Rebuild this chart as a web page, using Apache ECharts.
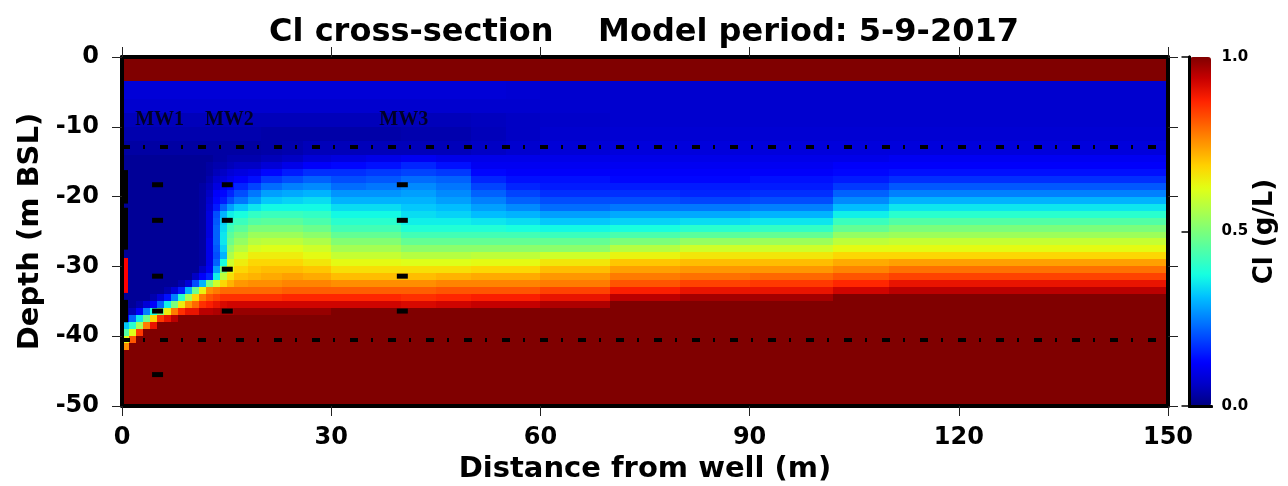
<!DOCTYPE html>
<html>
<head>
<meta charset="utf-8">
<script src="https://cdn.jsdelivr.net/npm/echarts@6/dist/echarts.min.js"></script>
<style>
  html, body { margin: 0; padding: 0; background: #fff; }
  #chart { width: 1288px; height: 486px; }
</style>
</head>
<body>
<div id="chart"></div>
<script>
// model column edges, m from well
const xEdges = [0, 1, 2, 3, 4, 5, 6, 7, 8, 9, 10, 11, 12, 13, 14, 15, 16, 18, 20, 23, 26, 30, 35, 40, 45, 50, 55, 60, 70, 80, 90, 102, 110, 150];
// model layer edges, m BSL
const depthEdges = [0, -3.5, -6, -8, -10, -12, -14, -15, -16, -17, -18, -19, -20, -21, -22, -23, -24, -25, -26, -27, -28,
  -29, -30, -31, -32, -33, -34, -35, -36, -37, -38, -39, -40, -41, -42, -43, -50];

// Cl (g/L) per column, top layer to bottom layer (one row per layer)
const clColumns = [
  [1, .08, .07, .05, .04, .03, .02, .02, .02, .02, .02, .02, .02, .02, .02, .02,
    .02, .02, .02, .02, .02, .02, .02, .02, .02, .02, .02, .02, .03, .12, .32, .45, .62, .76, 1, 1], // 0-1
  [1, .08, .07, .05, .04, .03, .02, .02, .02, .02, .02, .02, .02, .02, .02, .02,
    .02, .02, .02, .02, .02, .02, .02, .02, .02, .02, .02, .02, .05, .22, .4, .62, .82, 1, 1, 1], // 1-2
  [1, .08, .07, .05, .04, .03, .02, .02, .02, .02, .02, .02, .02, .02, .02, .02,
    .02, .02, .02, .02, .02, .02, .02, .02, .02, .02, .02, .04, .12, .35, .55, .85, 1, 1, 1, 1], // 2-3
  [1, .08, .07, .05, .04, .03, .02, .02, .02, .02, .02, .02, .02, .02, .02, .02,
    .02, .02, .02, .02, .02, .02, .02, .02, .02, .02, .02, .08, .25, .48, .78, 1, 1, 1, 1, 1], // 3-4
  [1, .08, .07, .05, .04, .03, .02, .02, .02, .02, .02, .02, .02, .02, .02, .02,
    .02, .02, .02, .02, .02, .02, .02, .02, .02, .02, .04, .12, .38, .68, .9, 1, 1, 1, 1, 1], // 4-5
  [1, .08, .07, .05, .04, .03, .02, .02, .02, .02, .02, .02, .02, .02, .02, .02,
    .02, .02, .02, .02, .02, .02, .02, .02, .02, .02, .08, .22, .5, .85, 1, 1, 1, 1, 1, 1], // 5-6
  [1, .08, .07, .05, .04, .03, .02, .02, .02, .02, .02, .02, .02, .02, .02, .02,
    .02, .02, .02, .02, .02, .02, .02, .02, .02, .04, .14, .36, .65, .9, 1, 1, 1, 1, 1, 1], // 6-7
  [1, .08, .07, .05, .04, .03, .02, .02, .02, .02, .02, .02, .02, .02, .02, .02,
    .02, .02, .02, .02, .02, .02, .02, .02, .02, .08, .25, .5, .78, .95, 1, 1, 1, 1, 1, 1], // 7-8
  [1, .08, .07, .05, .04, .03, .02, .02, .02, .02, .02, .02, .02, .02, .02, .02,
    .02, .02, .02, .02, .02, .02, .02, .02, .04, .15, .4, .65, .86, 1, 1, 1, 1, 1, 1, 1], // 8-9
  [1, .08, .07, .05, .04, .03, .02, .02, .02, .02, .02, .02, .02, .02, .02, .02,
    .02, .02, .02, .02, .02, .02, .02, .02, .08, .3, .55, .75, .9, 1, 1, 1, 1, 1, 1, 1], // 9-10
  [1, .08, .07, .05, .04, .03, .02, .02, .02, .02, .02, .02, .02, .02, .02, .02,
    .02, .02, .02, .02, .02, .02, .02, .06, .2, .48, .68, .8, .9, 1, 1, 1, 1, 1, 1, 1], // 10-11
  [1, .08, .07, .05, .04, .03, .02, .02, .02, .02, .03, .03, .03, .03, .03, .03,
    .03, .03, .03, .03, .03, .03, .06, .12, .3, .64, .78, .86, .95, 1, 1, 1, 1, 1, 1, 1], // 11-12
  [1, .08, .07, .05, .04, .03, .02, .03, .03, .04, .05, .06, .07, .08, .09, .09,
    .09, .09, .1, .1, .1, .1, .11, .16, .5, .76, .82, .88, .95, 1, 1, 1, 1, 1, 1, 1], // 12-13
  [1, .08, .07, .05, .04, .03, .03, .04, .05, .07, .09, .12, .13, .15, .2, .21,
    .22, .22, .22, .21, .2, .22, .28, .36, .6, .78, .84, .9, .96, 1, 1, 1, 1, 1, 1, 1], // 13-14
  [1, .08, .07, .05, .04, .03, .03, .04, .06, .08, .11, .13, .15, .22, .3, .33,
    .34, .35, .35, .33, .3, .38, .5, .58, .68, .8, .86, .92, .97, 1, 1, 1, 1, 1, 1, 1], // 14-15
  [1, .08, .07, .05, .04, .03, .04, .05, .08, .1, .13, .16, .2, .28, .36, .4,
    .43, .46, .48, .52, .56, .6, .63, .67, .72, .8, .86, .93, .97, 1, 1, 1, 1, 1, 1, 1], // 15-16
  [1, .08, .07, .05, .04, .03, .04, .06, .09, .12, .16, .2, .24, .32, .38, .42,
    .46, .5, .53, .57, .61, .65, .68, .71, .75, .8, .86, .93, .98, 1, 1, 1, 1, 1, 1, 1], // 16-18
  [1, .08, .07, .05, .04, .03, .04, .06, .1, .14, .19, .24, .28, .35, .41, .45,
    .5, .54, .57, .61, .65, .68, .7, .72, .76, .8, .86, .93, .98, 1, 1, 1, 1, 1, 1, 1], // 18-20
  [1, .08, .07, .05, .035, .035, .05, .08, .13, .18, .23, .28, .32, .37, .42, .46,
    .5, .54, .58, .62, .65, .68, .71, .73, .76, .8, .86, .93, .98, 1, 1, 1, 1, 1, 1, 1], // 20-23
  [1, .08, .07, .05, .035, .04, .06, .1, .15, .2, .25, .29, .33, .37, .42, .46,
    .5, .54, .58, .62, .65, .68, .71, .74, .77, .81, .87, .93, .98, 1, 1, 1, 1, 1, 1, 1], // 23-26
  [1, .08, .07, .05, .035, .05, .08, .12, .17, .22, .26, .3, .34, .37, .41, .44,
    .48, .52, .56, .6, .63, .66, .7, .73, .77, .81, .87, .93, .98, 1, 1, 1, 1, 1, 1, 1], // 26-30
  [1, .08, .07, .05, .035, .05, .09, .13, .17, .2, .23, .27, .3, .34, .37, .4,
    .43, .47, .51, .55, .59, .63, .67, .71, .76, .81, .87, .93, 1, 1, 1, 1, 1, 1, 1, 1], // 30-35
  [1, .08, .07, .05, .035, .05, .1, .14, .18, .21, .24, .27, .3, .34, .37, .4,
    .43, .47, .51, .55, .59, .63, .67, .71, .76, .81, .87, .93, 1, 1, 1, 1, 1, 1, 1, 1], // 35-40
  [1, .08, .07, .05, .04, .05, .11, .16, .19, .23, .26, .28, .3, .32, .34, .36,
    .39, .43, .47, .52, .57, .62, .67, .71, .76, .81, .86, .92, 1, 1, 1, 1, 1, 1, 1, 1], // 40-45
  [1, .08, .07, .05, .04, .05, .1, .14, .18, .22, .24, .26, .28, .31, .33, .36,
    .39, .43, .47, .52, .57, .62, .67, .72, .77, .82, .87, .93, 1, 1, 1, 1, 1, 1, 1, 1], // 45-50
  [1, .08, .07, .055, .05, .06, .1, .11, .13, .16, .19, .22, .25, .28, .31, .35,
    .39, .43, .47, .52, .58, .63, .68, .73, .77, .82, .88, .94, 1, 1, 1, 1, 1, 1, 1, 1], // 50-55
  [1, .075, .07, .06, .06, .07, .1, .11, .12, .14, .16, .19, .22, .26, .3, .34,
    .38, .43, .47, .52, .58, .63, .68, .73, .77, .82, .88, .94, 1, 1, 1, 1, 1, 1, 1, 1], // 55-60
  [1, .07, .07, .065, .07, .08, .1, .11, .12, .14, .15, .17, .2, .23, .28, .32,
    .37, .42, .47, .52, .6, .66, .71, .75, .78, .84, .9, .96, 1, 1, 1, 1, 1, 1, 1, 1], // 60-70
  [1, .07, .07, .07, .075, .085, .1, .11, .12, .13, .15, .17, .2, .24, .29, .33,
    .38, .44, .5, .57, .64, .7, .74, .78, .82, .88, .95, 1, 1, 1, 1, 1, 1, 1, 1, 1], // 70-80
  [1, .07, .07, .07, .075, .085, .1, .11, .12, .13, .15, .16, .19, .24, .29, .34,
    .4, .46, .53, .6, .66, .71, .75, .79, .84, .9, .97, 1, 1, 1, 1, 1, 1, 1, 1, 1], // 80-90
  [1, .07, .07, .07, .075, .085, .1, .11, .12, .14, .15, .17, .2, .25, .3, .35,
    .41, .47, .54, .6, .66, .71, .75, .8, .85, .9, .97, 1, 1, 1, 1, 1, 1, 1, 1, 1], // 90-102
  [1, .07, .07, .07, .075, .085, .1, .12, .13, .15, .18, .22, .26, .31, .36, .42,
    .47, .53, .58, .63, .68, .73, .77, .82, .87, .93, 1, 1, 1, 1, 1, 1, 1, 1, 1, 1], // 102-110
  [1, .07, .07, .07, .075, .085, .11, .12, .14, .17, .21, .25, .3, .35, .4, .45,
    .5, .54, .59, .63, .68, .74, .79, .84, .9, .95, 1, 1, 1, 1, 1, 1, 1, 1, 1, 1] // 110-150
];

// observation wells: distance (m) and screen depths (m BSL)
const mwNames = ['MW1', 'MW2', 'MW3'];
const mwX = [5.1, 15.1, 40.2];
const mwScreens = [
  [-18.3, -23.4, -31.4, -36.4, -45.5],
  [-18.3, -23.4, -30.4, -36.4],
  [-18.3, -23.4, -31.4, -36.4]
];
const mwLabelDepth = -9;
const mwLabelX = [5.4, 15.4, 40.4];

// pumping well at x ~ 0
const wellX = 0.45;
const wellCasing = [[-16.2, -21.0], [-21.6, -27.6], [-34.8, -38.0]];
const wellScreen = [[-28.8, -33.8]];
const screenX = 0.6;

// aquitard boundaries
const layerLines = [-12.8, -40.5];

const xTicks = { min: 0, max: 150, step: 30 };
const yTicks = { min: -50, max: 0, step: 10 };

const jet = ['#000080', '#0000c8', '#0000ff', '#0040ff', '#0080ff', '#00c0ff', '#15ffe2', '#48ffaf', '#7bff7b',
  '#afff48', '#e2ff15', '#ffd200', '#ff9700', '#ff5c00', '#ff2100', '#c80000', '#800000'];

const cells = [];
clColumns.forEach((col, i) => {
  col.forEach((v, j) => {
    cells.push([xEdges[i], xEdges[i + 1], depthEdges[j], depthEdges[j + 1], v]);
  });
});

const screenPts = [];
mwScreens.forEach((list, k) => list.forEach(d => screenPts.push([mwX[k], d])));

const font = 'DejaVu Sans';
const lbl = { color: '#000', fontFamily: font, fontWeight: 'bold' };

function frameAxis(extra) {
  return Object.assign({
    type: 'value',
    z: 10,
    splitLine: { show: false },
    axisLine: { show: true, onZero: false, lineStyle: { color: '#000', width: 4 } },
    axisTick: { show: true, inside: false, length: 10, lineStyle: { color: '#222', width: 1 } },
    axisLabel: Object.assign({ show: false, fontSize: 24 }, lbl)
  }, extra);
}

const chart = echarts.init(document.getElementById('chart'), null, { renderer: 'canvas' });

chart.setOption({
  animation: false,
  textStyle: { fontFamily: font },
  title: {
    text: 'Cl cross-section    Model period: 5-9-2017',
    left: 'center',
    top: 12,
    textStyle: { fontSize: 32, fontWeight: 'bold', color: '#000', fontFamily: font }
  },
  grid: [
    { left: 122, top: 57, width: 1046, height: 349, outerBoundsMode: 'none' },
    { left: 1189.5, top: 57, width: 22, height: 349, outerBoundsMode: 'none' }
  ],
  xAxis: [
    frameAxis({
      gridIndex: 0, position: 'bottom', min: xTicks.min, max: xTicks.max, interval: xTicks.step,
      axisLabel: Object.assign({ show: true, fontSize: 24, margin: 20 }, lbl),
      name: 'Distance from well (m)', nameLocation: 'middle', nameGap: 48,
      nameTextStyle: Object.assign({ fontSize: 29 }, lbl)
    }),
    frameAxis({ gridIndex: 0, position: 'top', min: xTicks.min, max: xTicks.max, interval: xTicks.step }),
    frameAxis({ gridIndex: 1, position: 'bottom', min: 0, max: 1, axisTick: { show: false }, axisLine: { show: true, lineStyle: { color: '#000', width: 3 } } }),
    frameAxis({ gridIndex: 1, position: 'top', min: 0, max: 1, axisTick: { show: false }, axisLine: { show: true, lineStyle: { color: '#000', width: 3 } } })
  ],
  yAxis: [
    frameAxis({
      gridIndex: 0, position: 'left', min: yTicks.min, max: yTicks.max, interval: yTicks.step,
      axisLabel: Object.assign({ show: true, fontSize: 24, margin: 23 }, lbl),
      name: 'Depth (m BSL)', nameLocation: 'middle', nameGap: 76, nameRotate: 90,
      nameTextStyle: Object.assign({ fontSize: 29 }, lbl)
    }),
    frameAxis({ gridIndex: 0, position: 'right', min: yTicks.min, max: yTicks.max, interval: yTicks.step }),
    frameAxis({
      gridIndex: 1, position: 'right', min: 0, max: 1, interval: 0.5,
      axisLine: { show: true, lineStyle: { color: '#000', width: 3 } },
      axisTick: { show: true, inside: true, length: 8, lineStyle: { color: '#000', width: 1.5 } },
      axisLabel: Object.assign({ show: true, fontSize: 15, margin: 10, formatter: v => v.toFixed(1) }, lbl),
      name: 'Cl (g/L)', nameLocation: 'middle', nameGap: 40, nameRotate: 90,
      nameTextStyle: Object.assign({ fontSize: 26 }, lbl)
    }),
    frameAxis({ gridIndex: 1, position: 'left', min: 0, max: 1, axisTick: { show: false }, axisLine: { show: true, lineStyle: { color: '#000', width: 3 } } })
  ],
  visualMap: {
    type: 'continuous',
    seriesIndex: 0,
    dimension: 4,
    min: 0,
    max: 1,
    calculable: false,
    hoverLink: false,
    orient: 'vertical',
    left: 1190,
    top: 57,
    padding: 0,
    itemWidth: 21,
    itemHeight: 349,
    text: null,
    inRange: { color: jet }
  },
  series: [
    {
      type: 'custom',
      xAxisIndex: 0,
      yAxisIndex: 0,
      silent: true,
      clip: true,
      dimensions: ['x0', 'x1', 'y0', 'y1', 'cl'],
      encode: { x: [0, 1], y: [2, 3] },
      data: cells,
      renderItem: function (params, api) {
        const a = api.coord([api.value(0), api.value(2)]);
        const b = api.coord([api.value(1), api.value(3)]);
        const x = Math.round(a[0]), y = Math.round(a[1]);
        return {
          type: 'rect',
          shape: { x: x, y: y, width: Math.round(b[0]) - x, height: Math.round(b[1]) - y },
          style: { fill: api.visual('color') }
        };
      }
    },
    {
      type: 'lines',
      coordinateSystem: 'cartesian2d',
      silent: true,
      z: 5,
      data: layerLines.map(d => ({ coords: [[xTicks.min, d], [xTicks.max, d]] })),
      lineStyle: { color: '#000', width: 4, type: [8, 13, 2, 15], cap: 'butt', opacity: 1 }
    },
    {
      type: 'lines',
      coordinateSystem: 'cartesian2d',
      silent: true,
      z: 6,
      data: wellCasing.map(s => ({ coords: [[wellX, s[0]], [wellX, s[1]]] })),
      lineStyle: { color: '#000', width: 6, cap: 'butt', opacity: 1 }
    },
    {
      type: 'lines',
      coordinateSystem: 'cartesian2d',
      silent: true,
      z: 6,
      data: wellScreen.map(s => ({ coords: [[screenX, s[0]], [screenX, s[1]]] })),
      lineStyle: { color: '#ff0000', width: 4, cap: 'butt', opacity: 1 }
    },
    {
      type: 'scatter',
      silent: true,
      z: 6,
      symbol: 'rect',
      symbolSize: [11, 5],
      itemStyle: { color: '#000', opacity: 1 },
      data: screenPts
    },
    {
      type: 'scatter',
      silent: true,
      z: 6,
      symbolSize: 1,
      itemStyle: { color: 'rgba(0,0,0,0)' },
      label: {
        show: true, position: 'inside', formatter: p => p.name,
        fontFamily: 'Liberation Serif', fontWeight: 'bold', fontSize: 20, color: '#000'
      },
      data: mwNames.map((n, k) => ({ name: n, value: [mwLabelX[k], mwLabelDepth] }))
    }
  ]
});
</script>
</body>
</html>
